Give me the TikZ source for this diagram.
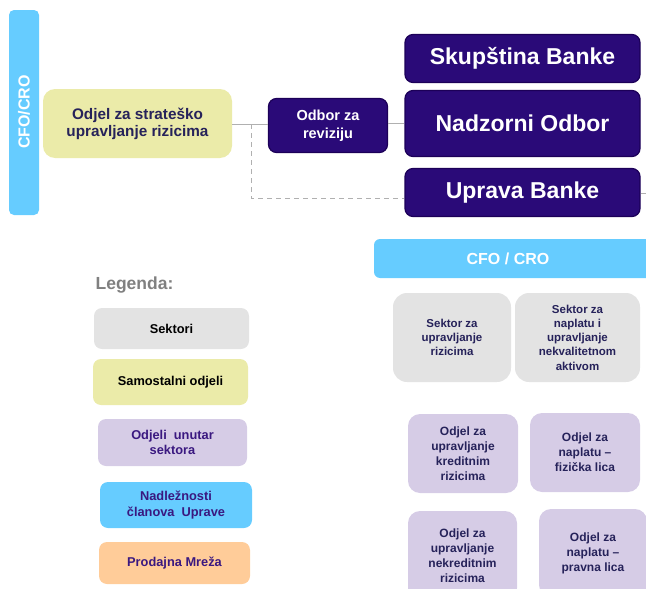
\documentclass[tikz,border=0pt]{standalone}
\usepackage{fontspec}
\setmainfont{Liberation Sans}
\definecolor{cfoblue}{HTML}{66CCFF}
\definecolor{stratyel}{HTML}{EBEBA9}
\definecolor{darkpur}{HTML}{2A0A78}
\definecolor{darkpurb}{HTML}{1C0058}
\definecolor{sekgray}{HTML}{E3E3E3}
\definecolor{lavend}{HTML}{D6CCE6}
\definecolor{peach}{HTML}{FFCC99}
\definecolor{navytxt}{HTML}{26225A}
\definecolor{purtxt}{HTML}{3A1880}
\definecolor{linegray}{HTML}{B0B0B0}
\definecolor{leggray}{HTML}{808080}
\tikzset{
  x=1pt,y=-1pt,
  box/.style={rounded corners=8pt, align=center, inner sep=2pt, font=\bfseries},
  gov/.style={box, fill=darkpur, draw=darkpurb, line width=1.2pt, text=white, minimum width=235pt, font=\bfseries\fontsize{23}{27}\selectfont},
  sekbox/.style={box, fill=sekgray, text=navytxt, font=\bfseries\fontsize{11.5}{14.3}\selectfont},
  odbox/.style={box, fill=lavend, text=navytxt, rounded corners=12pt, font=\bfseries\fontsize{12}{15}\selectfont},
  legbox/.style={box, font=\bfseries\fontsize{12.8}{15.5}\selectfont},
  conn/.style={draw=linegray, line width=1pt},
  dconn/.style={draw=linegray, line width=1pt, dash pattern=on 5pt off 4pt},
}
\begin{document}
\begin{tikzpicture}
\useasboundingbox (0,0) rectangle (646,589);
\clip (0,0) rectangle (646,589);
% top part
\node[box, fill=cfoblue, minimum width=30pt, minimum height=205pt, rounded corners=5pt] (cfov) at (24,112.5) {};
\node[text=white, rotate=90, font=\bfseries\fontsize{16}{19}\selectfont] (cfovt) at (24,112) {CFO/CRO};
\node[box, fill=stratyel, text=navytxt, minimum width=189pt, minimum height=69pt, rounded corners=12pt, font=\bfseries\fontsize{15.3}{17}\selectfont] (strat) at (137.5,123.5) {Odjel za strateško\\upravljanje rizicima};
\node[box, fill=darkpur, draw=darkpurb, line width=1.2pt, text=white, minimum width=119pt, minimum height=54pt, font=\bfseries\fontsize{14.5}{18}\selectfont] (odbor) at (328,125.5) {Odbor za\\reviziju};
\node[gov, minimum height=48pt] (skup) at (522.5,58.5) {Skupština Banke};
\node[gov, minimum height=66pt] (nadz) at (522.5,123.5) {Nadzorni Odbor};
\node[gov, minimum height=48pt] (uprava) at (522.5,192.5) {Uprava Banke};
% connectors
\coordinate (j1) at (251,124);
\coordinate (j2) at (251,198);
\coordinate (j3) at (uprava.west |- j2);
\coordinate (rend) at (650,193);
\draw[conn] (strat.east |- j1) -- (odbor.west |- j1);
\draw[conn] (odbor.east |- nadz.west) -- (nadz.west);
\draw[dconn] (j1) -- (j2) -- (j3);
\draw[conn] (uprava.east |- rend) -- (rend);
% legend
\node[text=leggray, font=\bfseries\fontsize{17.5}{20}\selectfont] (leg) at (134.5,285) {Legenda:};
\node[legbox, fill=sekgray, text=black, minimum width=155pt, minimum height=41pt] (lsek) at (171.5,328.5) {Sektori};
\node[legbox, fill=stratyel, text=black, minimum width=155pt, minimum height=46pt] (lsam) at (170.5,382) {Samostalni odjeli};
\node[legbox, fill=lavend, text=purtxt, minimum width=149pt, minimum height=47pt] (lodj) at (172.5,442.5) {Odjeli\ \ unutar\\sektora};
\node[legbox, fill=cfoblue, text=purtxt, minimum width=152pt, minimum height=46pt] (lnad) at (176,505) {Nadležnosti\\članova\ \ Uprave};
\node[legbox, fill=peach, text=purtxt, minimum width=151pt, minimum height=42pt] (lpro) at (174.5,563) {Prodajna Mreža};
% CFO/CRO org
\node[box, fill=cfoblue, minimum width=290pt, minimum height=39pt, rounded corners=6pt] (cfoh) at (519,258.5) {};
\node[text=white, font=\bfseries\fontsize{16}{19}\selectfont] (cfoht) at (508,258.5) {CFO / CRO};
\node[sekbox, minimum width=118pt, minimum height=89pt, rounded corners=14pt] (sek1) at (452,337.5) {Sektor za\\upravljanje\\rizicima};
\node[sekbox, minimum width=125pt, minimum height=89pt, rounded corners=14pt] (sek2) at (577.5,337.5) {Sektor za\\naplatu i\\upravljanje\\nekvalitetnom\\aktivom};
\node[odbox, minimum width=110pt, minimum height=79pt] (od1) at (463,453.5) {Odjel za\\upravljanje\\kreditnim\\rizicima};
\node[odbox, minimum width=110pt, minimum height=79pt] (od2) at (585,452.5) {Odjel za\\naplatu –\\fizička lica};
\node[odbox, minimum width=109pt, minimum height=89pt] (od3) at (462.5,555.5) {Odjel za\\upravljanje\\nekreditnim\\rizicima};
\node[odbox, minimum width=108pt, minimum height=88pt] (od4) at (593,553) {Odjel za\\naplatu –\\pravna lica};
\end{tikzpicture}
\end{document}
